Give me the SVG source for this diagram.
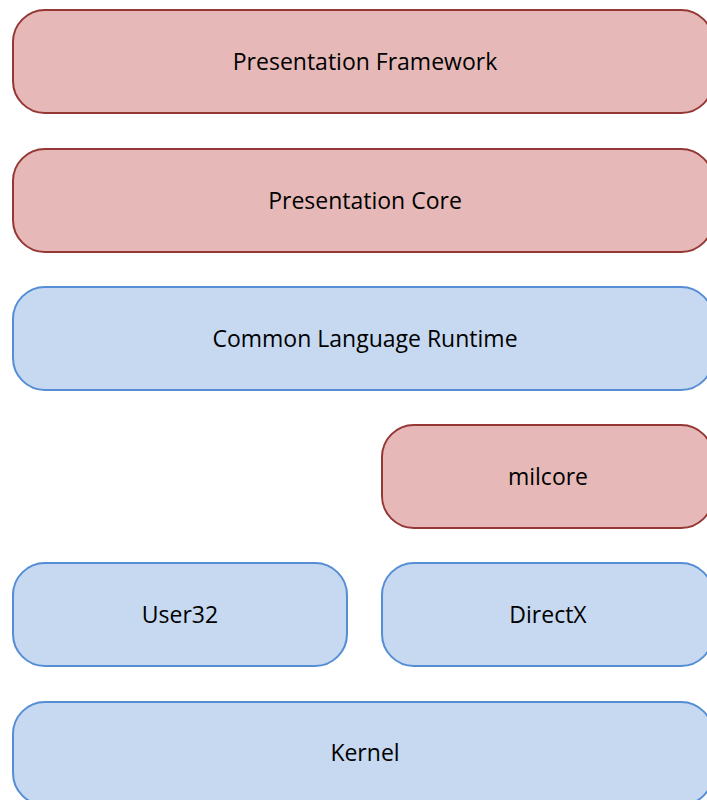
<svg xmlns="http://www.w3.org/2000/svg" width="707" height="800" viewBox="0 0 707 800">
<style>
.red rect{fill:#E6B9B8;stroke:#953735;stroke-width:2}
.blue rect{fill:#C6D9F1;stroke:#558ED5;stroke-width:2}
text{font-family:"Open Sans","Liberation Sans",sans-serif;font-size:23px;fill:#000;text-anchor:middle}
</style>
<rect width="707" height="800" fill="#fff"/>
<g id="presentation-framework" class="red"><rect x="13" y="10" width="700" height="103" rx="32"/><text x="365" y="70">Presentation Framework</text></g>
<g id="presentation-core" class="red"><rect x="13" y="149" width="700" height="103" rx="32"/><text x="365" y="209">Presentation Core</text></g>
<g id="clr" class="blue"><rect x="13" y="287" width="700" height="103" rx="32"/><text x="365" y="347">Common Language Runtime</text></g>
<g id="milcore" class="red"><rect x="382" y="425" width="331" height="103" rx="32"/><text x="548" y="485">milcore</text></g>
<g id="user32" class="blue"><rect x="13" y="563" width="334" height="103" rx="32"/><text x="180" y="623">User32</text></g>
<g id="directx" class="blue"><rect x="382" y="563" width="331" height="103" rx="32"/><text x="548" y="623">DirectX</text></g>
<g id="kernel" class="blue"><rect x="13" y="702" width="700" height="103" rx="32"/><text x="365" y="761">Kernel</text></g>
<g id="connectors"/>
</svg>
